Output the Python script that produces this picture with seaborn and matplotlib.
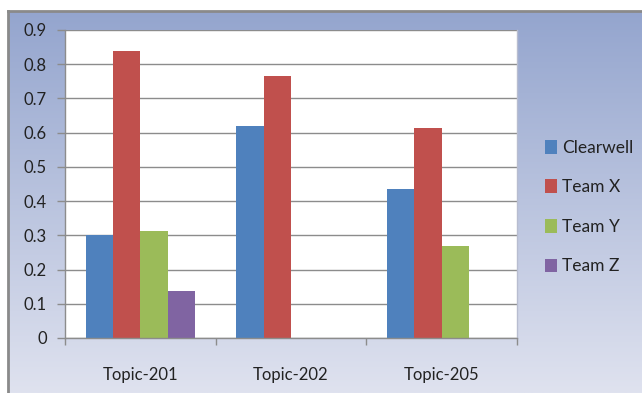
import numpy as np
import pandas as pd
import matplotlib
matplotlib.use("Agg")
import matplotlib.pyplot as plt
from matplotlib.patches import Patch
import seaborn as sns

topics = ["Topic-201", "Topic-202", "Topic-205"]
teams = ["Clearwell", "Team X", "Team Y", "Team Z"]
clearwell = [0.30, 0.62, 0.435]
team_x = [0.84, 0.765, 0.613]
team_y = [0.313, 0.0, 0.27]
team_z = [0.137, 0.0, 0.0]
colors = ["#4F81BD", "#C0504D", "#9BBB59", "#8064A2"]
yticks = [0, 0.1, 0.2, 0.3, 0.4, 0.5, 0.6, 0.7, 0.8, 0.9]

sns.set_theme(style="white")
plt.rcParams["font.family"] = ["Lato", "DejaVu Sans"]

rows = []
for team, vals in zip(teams, [clearwell, team_x, team_y, team_z]):
    for t, v in zip(topics, vals):
        rows.append({"topic": t, "team": team, "value": v})
df = pd.DataFrame(rows)

fig = plt.figure(figsize=(6.42, 3.93), dpi=100)
fig.patch.set_facecolor("white")

# gradient background frame
bg = fig.add_axes([8/642, 0, 1 - 8/642, (393 - 11)/393])
top = np.array([0x94, 0xA5, 0xCE]) / 255
bot = np.array([0xDF, 0xE2, 0xEF]) / 255
t = np.linspace(0, 1, 256)[:, None]
grad = top[None, :] * (1 - t) + bot[None, :] * t
grad = np.repeat(grad[:, None, :], 2, axis=1)
bg.imshow(grad, aspect="auto", extent=[0, 1, 0, 1], origin="upper")
bg.set_xlim(0, 1); bg.set_ylim(0, 1)
bg.set_xticks([]); bg.set_yticks([])
for s in ["right", "bottom"]:
    bg.spines[s].set_visible(False)
for s in ["left", "top"]:
    bg.spines[s].set_color("#8a8a8a")
    bg.spines[s].set_linewidth(2)

ax = fig.add_axes([65/642, (393 - 338)/393, (517 - 65)/642, (338 - 30)/393])
ax.set_facecolor("white")
sns.barplot(data=df, x="topic", y="value", hue="team", palette=colors,
            width=0.725, ax=ax, legend=False, saturation=1,
            edgecolor="none")

ax.set_ylim(0, 0.9)
ax.set_xlim(-0.5, 2.5)
ax.set_yticks(yticks)
ax.set_yticklabels(["0"] + [f"{v:.1f}" for v in yticks[1:]])
ax.yaxis.grid(True, color="#8c8c8c", linewidth=1)
ax.set_axisbelow(True)
ax.set_xlabel("")
ax.set_ylabel("")
ax.tick_params(axis="y", which="major", length=6, width=1, color="#8c8c8c",
               pad=7, labelsize=12, labelcolor="#222222", left=True)
ax.tick_params(axis="x", which="major", length=0, pad=21, labelsize=12,
               labelcolor="#222222")
ax.set_xticks([-0.5, 0.5, 1.5, 2.5], minor=True)
ax.tick_params(axis="x", which="minor", length=5, width=1, color="#8c8c8c",
               bottom=True)
for s in ["left", "bottom"]:
    ax.spines[s].set_color("#8c8c8c")
    ax.spines[s].set_linewidth(1)
ax.spines["top"].set_visible(False)
ax.spines["right"].set_color("#b8bdd0")
ax.spines["right"].set_linewidth(1)

handles = [Patch(facecolor=c, edgecolor="none", label=l) for c, l in zip(colors, teams)]
leg = fig.legend(handles=handles, loc="upper left",
                 bbox_to_anchor=(529/642, (393 - 124)/393), frameon=False,
                 fontsize=12.5, handlelength=0.7, handleheight=0.85,
                 handletextpad=0.3, labelspacing=1.36,
                 labelcolor="#222222")

fig.savefig("out.png", dpi=100)
